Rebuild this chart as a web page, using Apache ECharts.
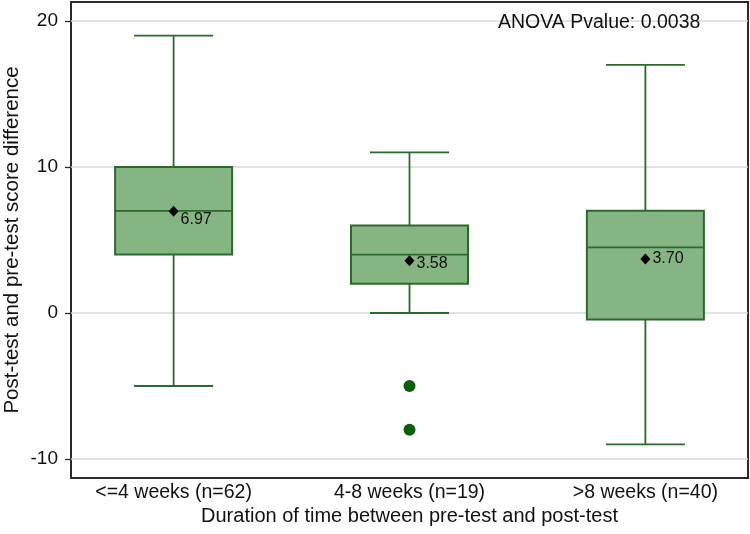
<!DOCTYPE html>
<html><head><meta charset="utf-8">
<script src="https://cdn.jsdelivr.net/npm/echarts@6/dist/echarts.min.js"></script>
<style>html,body{margin:0;padding:0;background:#fff}#c{width:750px;height:534px}</style>
</head><body><div id="c"></div>
<script>
// ---- data ----
const categories = ['<=4 weeks (n=62)', '4-8 weeks (n=19)', '>8 weeks (n=40)'];
const whiskerLow = [-5, 0, -9];
const q1 = [4, 2, -0.45];
const median = [7, 4, 4.5];
const q3 = [10, 6, 7];
const whiskerHigh = [19, 11, 17];
const means = [6.97, 3.58, 3.70];
const outlierGroup = [2, 2];
const outlierValues = [-5, -8];
const yTicks = [-10, 0, 10, 20];
const xTitle = 'Duration of time between pre-test and post-test';
const yTitle = 'Post-test and pre-test score difference';
const anovaText = 'ANOVA Pvalue: 0.0038';

// ---- chart ----
const FONT = '"Liberation Sans", Arial, Helvetica, sans-serif';
const TEXT = '#111';
const GREEN = '#2c6a2c';
const FILL = '#86b584';
const chart = echarts.init(document.getElementById('c'), null, {renderer: 'canvas'});

const boxData = categories.map((c, i) => [i + 1, whiskerLow[i], q1[i], median[i], q3[i], whiskerHigh[i]]);
const meanLabelOffsets = [[0, 8], [0, 3], [0, 0]];

function renderBox(params, api) {
  const x = api.value(0);
  const lo = api.coord([x, api.value(1)]);
  const b1 = api.coord([x, api.value(2)]);
  const md = api.coord([x, api.value(3)]);
  const b3 = api.coord([x, api.value(4)]);
  const hi = api.coord([x, api.value(5)]);
  const bw = 117, cw = 79;
  const cx = lo[0];
  const ls = {stroke: GREEN, lineWidth: 1.8, fill: null};
  return {type: 'group', children: [
    {type: 'line', shape: {x1: cx, y1: hi[1], x2: cx, y2: b3[1]}, style: ls},
    {type: 'line', shape: {x1: cx, y1: b1[1], x2: cx, y2: lo[1]}, style: ls},
    {type: 'line', shape: {x1: cx - cw / 2, y1: hi[1], x2: cx + cw / 2, y2: hi[1]}, style: ls},
    {type: 'line', shape: {x1: cx - cw / 2, y1: lo[1], x2: cx + cw / 2, y2: lo[1]}, style: ls},
    {type: 'rect', shape: {x: cx - bw / 2, y: b3[1], width: bw, height: b1[1] - b3[1]}, style: {fill: FILL, stroke: GREEN, lineWidth: 2}},
    {type: 'line', shape: {x1: cx - bw / 2, y1: md[1], x2: cx + bw / 2, y2: md[1]}, style: ls}
  ]};
}

const option = {
  animation: false,
  backgroundColor: '#fff',
  grid: {left: 71, top: 2, width: 677, height: 476, show: true, borderColor: '#2a2a2a', borderWidth: 2,
         backgroundColor: 'transparent', containLabel: false, outerBoundsMode: 'none'},
  xAxis: {
    type: 'value', min: 0.565, max: 3.435,
    axisLine: {show: false}, splitLine: {show: false}, axisTick: {show: false},
    axisLabel: {customValues: [1, 2, 3], formatter: v => categories[Math.round(v) - 1], fontSize: 19.5, margin: 5, color: TEXT, fontFamily: FONT},
    name: xTitle, nameLocation: 'middle', nameGap: 28, nameMoveOverlap: false,
    nameTextStyle: {fontSize: 20, color: TEXT, fontFamily: FONT}
  },
  yAxis: {
    type: 'value', min: -11.3, max: 21.3,
    axisLine: {show: true, lineStyle: {color: '#2a2a2a', width: 2}}, splitLine: {show: false},
    axisTick: {show: true, inside: false, length: 6, customValues: yTicks, lineStyle: {color: '#2a2a2a', width: 1.3}},
    axisLabel: {customValues: yTicks, fontSize: 19, margin: 13, color: TEXT, fontFamily: FONT},
    name: yTitle, nameLocation: 'middle', nameGap: 48, nameMoveOverlap: false,
    nameTextStyle: {fontSize: 20.5, color: TEXT, fontFamily: FONT}
  },
  graphic: [{
    type: 'text', left: 498, top: 13, z: 100,
    style: {text: anovaText, fontSize: 19.5, fill: TEXT, fontFamily: FONT}
  }],
  series: [
    {
      type: 'line', data: [], z: 1, silent: true,
      markLine: {
        z: 1, silent: true, symbol: 'none', label: {show: false},
        lineStyle: {color: '#d8d8d8', width: 1.5, type: 'solid'},
        data: yTicks.map(v => ({yAxis: v}))
      }
    },
    {
      type: 'custom', z: 10, silent: true,
      renderItem: renderBox,
      encode: {x: 0, y: [1, 2, 3, 4, 5]},
      data: boxData
    },
    {
      type: 'scatter', z: 11, silent: true,
      symbol: 'circle', symbolSize: 12,
      itemStyle: {color: '#0b5e0b', opacity: 1},
      data: outlierGroup.map((g, i) => [g, outlierValues[i]])
    },
    {
      type: 'scatter', z: 12, silent: true,
      symbol: 'diamond', symbolSize: [10, 11],
      itemStyle: {color: '#000', opacity: 1},
      label: {show: true, position: 'right', distance: 2, fontSize: 16, color: TEXT, fontFamily: FONT,
              formatter: p => p.value[1].toFixed(2)},
      data: means.map((m, i) => ({value: [i + 1, m], label: {offset: meanLabelOffsets[i]}}))
    }
  ]
};
chart.setOption(option);
</script>
</body></html>
